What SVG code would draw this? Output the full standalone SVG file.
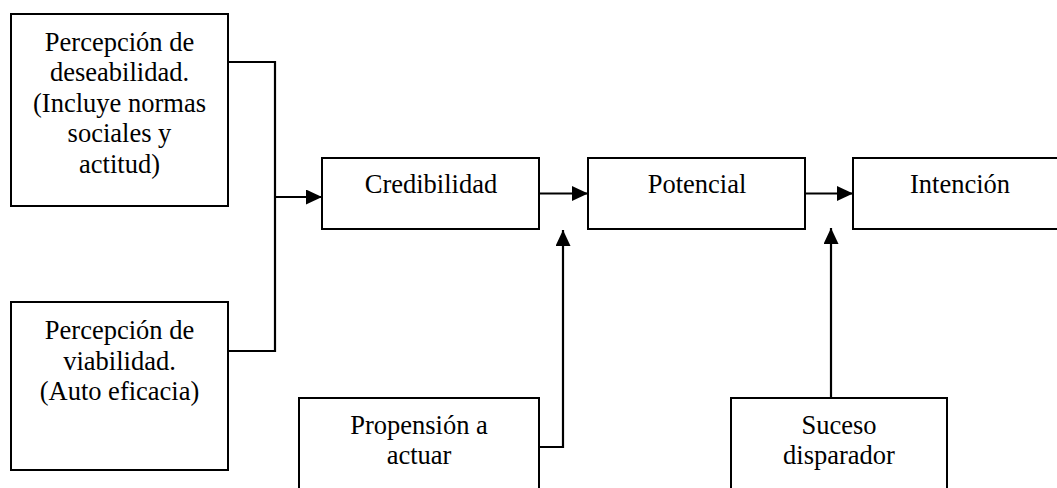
<svg xmlns="http://www.w3.org/2000/svg" width="1057" height="488" viewBox="0 0 1057 488">
<style>
.box{fill:#fff;stroke:#000;stroke-width:2}
.lbl{font-family:"Liberation Serif","Times New Roman",serif;font-size:26.5px;fill:#000;text-anchor:middle}
.con{fill:none;stroke:#000;stroke-width:2.2}
</style>
<defs>
<marker id="arr" markerUnits="userSpaceOnUse" viewBox="0 0 16 15" refX="16" refY="7.5" markerWidth="16" markerHeight="15" orient="auto">
<path d="M0,0 L16,7.5 L0,15 Z" fill="#000"/>
</marker>
</defs>
<rect width="1057" height="488" fill="#fff"/>
<g id="connectors">
<path class="con" d="M228,62 H275 V351 H228"/>
<path class="con" d="M275,197 H322" marker-end="url(#arr)"/>
<path class="con" d="M539,193.5 H588" marker-end="url(#arr)"/>
<path class="con" d="M802,193.5 H853" marker-end="url(#arr)"/>
<path class="con" d="M539,447 H563 V230" marker-end="url(#arr)"/>
<path class="con" d="M831,398 V228" marker-end="url(#arr)"/>
</g>
<g id="deseabilidad">
<rect class="box" x="11" y="14" width="217" height="192"/>
<text class="lbl"><tspan x="119.5" y="50.5">Percepción de</tspan><tspan x="119.5" y="81">deseabilidad.</tspan><tspan x="119.5" y="111.5">(Incluye normas</tspan><tspan x="119.5" y="142">sociales y</tspan><tspan x="119.5" y="172.5">actitud)</tspan></text>
</g>
<g id="viabilidad">
<rect class="box" x="11" y="302" width="217" height="168"/>
<text class="lbl"><tspan x="119.5" y="339">Percepción de</tspan><tspan x="119.5" y="369.5">viabilidad.</tspan><tspan x="119.5" y="400">(Auto eficacia)</tspan></text>
</g>
<g id="credibilidad">
<rect class="box" x="322" y="158" width="217" height="71"/>
<text class="lbl" x="431" y="193">Credibilidad</text>
</g>
<g id="potencial">
<rect class="box" x="588" y="158" width="217" height="71"/>
<text class="lbl" x="697" y="193">Potencial</text>
</g>
<g id="intencion">
<rect class="box" x="853" y="158" width="220" height="71"/>
<text class="lbl" x="960" y="193">Intención</text>
</g>
<g id="propension">
<rect class="box" x="299" y="398" width="240" height="100"/>
<text class="lbl"><tspan x="419" y="434">Propensión a</tspan><tspan x="419" y="464">actuar</tspan></text>
</g>
<g id="suceso">
<rect class="box" x="731" y="398" width="216" height="100"/>
<text class="lbl"><tspan x="839" y="434">Suceso</tspan><tspan x="839" y="464">disparador</tspan></text>
</g>
</svg>
